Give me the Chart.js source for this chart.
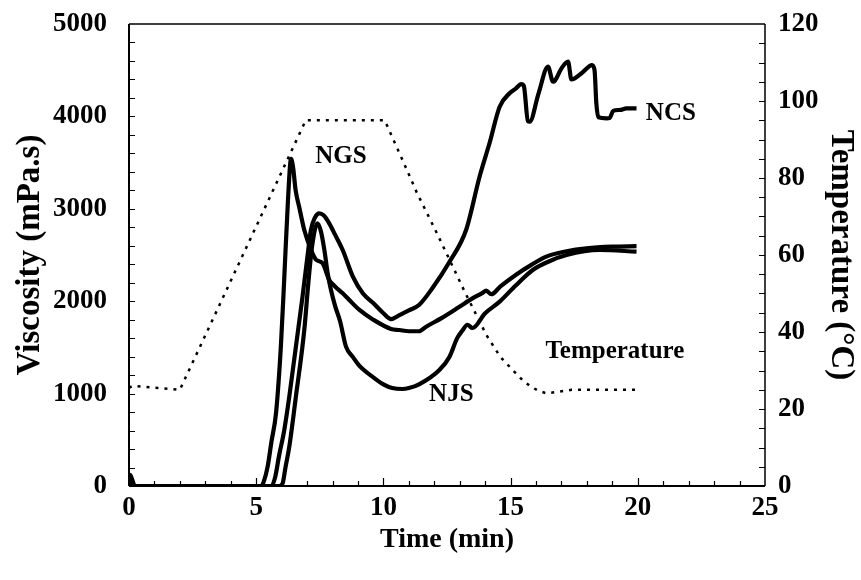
<!DOCTYPE html>
<html>
<head>
<meta charset="utf-8">
<script src="https://cdn.jsdelivr.net/npm/chart.js@4"></script>
<style>
  html, body { margin: 0; padding: 0; background: #fff; }
  canvas { display: block; }
</style>
</head>
<body>
<canvas id="myChart" width="861" height="580"></canvas>
<script>
// Viscosity profiles (mPa.s) vs time (min) for three starches
const ngsTime = [0, 0.04, 0.1, 0.16, 0.22, 5.2, 5.3, 5.45, 5.6, 5.78, 5.97, 6.1, 6.25, 6.37, 6.45, 6.55, 6.69, 6.89, 7.15, 7.35, 7.61, 7.87, 8.1, 8.4, 8.66, 9.06, 9.6, 10.3, 10.63, 11.0, 11.4, 11.68, 12.3, 12.99, 13.5, 13.9, 14.04, 14.24, 14.6, 15.2, 15.8, 16.4, 17.2, 17.98, 19.0, 19.95];
const ngsVisc = [0, 120, 90, 40, 0, 0, 50, 210, 480, 790, 1510, 2230, 3100, 3540, 3450, 3200, 3020, 2770, 2560, 2450, 2410, 2230, 2160, 2085, 2013, 1905, 1800, 1700, 1688, 1675, 1675, 1724, 1820, 1940, 2030, 2090, 2115, 2075, 2160, 2284, 2390, 2482, 2540, 2572, 2590, 2595];

const ncsTime = [0, 5.6, 5.75, 5.9, 6.1, 6.3, 6.56, 6.82, 7.0, 7.15, 7.3, 7.48, 7.65, 7.87, 8.1, 8.4, 8.8, 9.19, 9.6, 10.0, 10.3, 10.63, 11.0, 11.4, 11.93, 12.6, 13.25, 13.78, 14.17, 14.57, 14.96, 15.2, 15.42, 15.52, 15.68, 15.75, 16.1, 16.47, 16.67, 16.75, 17.0, 17.26, 17.39, 17.8, 18.2, 18.3, 18.37, 18.45, 18.77, 18.9, 19.03, 19.3, 19.55, 19.95];
const ncsVisc = [0, 0, 100, 330, 600, 966, 1508, 2049, 2450, 2770, 2900, 2951, 2930, 2843, 2720, 2554, 2265, 2085, 1980, 1870, 1807, 1850, 1900, 1959, 2143, 2427, 2770, 3347, 3709, 4105, 4250, 4300, 4350, 4330, 3950, 3943, 4250, 4538, 4375, 4390, 4520, 4592, 4400, 4470, 4556, 4500, 4142, 3990, 3979, 3985, 4060, 4070, 4087, 4087];

const njsTime = [0, 5.9, 6.04, 6.15, 6.3, 6.56, 6.89, 7.05, 7.2, 7.41, 7.55, 7.68, 7.81, 7.94, 8.1, 8.3, 8.53, 8.79, 9.06, 9.57, 10.0, 10.35, 10.75, 11.0, 11.4, 12.2, 12.6, 12.9, 13.1, 13.3, 13.5, 14.0, 14.57, 15.2, 15.87, 16.5, 17.2, 18.5, 19.95];
const njsVisc = [0, 0, 30, 200, 425, 966, 1688, 2200, 2600, 2843, 2750, 2554, 2302, 2121, 1950, 1780, 1508, 1400, 1300, 1183, 1100, 1060, 1050, 1060, 1100, 1255, 1400, 1600, 1680, 1745, 1710, 1870, 1995, 2170, 2338, 2430, 2500, 2554, 2536];

// Temperature programme (°C), right axis
const tempTime = [0, 0.15, 2, 6.95, 10.05, 10.75, 11.3, 12.1, 13.2, 14.05, 14.6, 15.2, 15.5, 15.8, 16.1, 16.4, 16.8, 17.4, 19.95];
const tempVal = [25.5, 26, 25, 95, 95, 84.7, 76.4, 65.7, 50.4, 39.2, 33.5, 29.3, 27.3, 25.8, 24.7, 24.1, 24.4, 25, 25];

// curve names written beside the lines: [text, time, viscosity]
const curveNames = [
    ['NGS', 8.33, 3564],
    ['NCS', 21.3, 4033],
    ['NJS', 12.67, 985],
    ['Temperature', 19.1, 1453]
];

const FONT = '"Liberation Serif", "Times New Roman", serif';

function toPoints(xs, ys) {
    return xs.map((x, i) => ({ x: x, y: ys[i] }));
}

function solid(label, xs, ys) {
    return {
        label: label,
        data: toPoints(xs, ys),
        borderColor: '#000',
        borderWidth: 4.2,
        pointRadius: 0,
        cubicInterpolationMode: 'monotone',
        yAxisID: 'y'
    };
}

// frame, inward tick marks and curve names
const framePlugin = {
    id: 'frame',
    afterDraw(chart) {
        const ctx = chart.ctx;
        const a = chart.chartArea;
        const sx = chart.scales.x, sy = chart.scales.y, sy2 = chart.scales.y2;
        ctx.save();
        ctx.strokeStyle = '#000';
        ctx.lineCap = 'butt';

        ctx.lineWidth = 1.5;
        ctx.beginPath();
        ctx.moveTo(a.left, a.top); ctx.lineTo(a.right, a.top);
        ctx.moveTo(a.right, a.top); ctx.lineTo(a.right, a.bottom);
        ctx.stroke();
        ctx.lineWidth = 2;
        ctx.beginPath();
        ctx.moveTo(a.left, a.top); ctx.lineTo(a.left, a.bottom);
        ctx.moveTo(a.left, a.bottom); ctx.lineTo(a.right, a.bottom);
        ctx.stroke();

        ctx.lineWidth = 1.2;
        ctx.beginPath();
        for (let t = 1; t < 25; t++) {
            const px = Math.round(sx.getPixelForValue(t)) + 0.5;
            const len = t % 5 === 0 ? 8 : 5;
            ctx.moveTo(px, a.bottom); ctx.lineTo(px, a.bottom - len);
        }
        for (let v = 200; v < 5000; v += 200) {
            const py = Math.round(sy.getPixelForValue(v)) + 0.5;
            ctx.moveTo(a.left, py); ctx.lineTo(a.left + 6, py);
        }
        for (let v = 5; v < 120; v += 5) {
            const py = Math.round(sy2.getPixelForValue(v)) + 0.5;
            ctx.moveTo(a.right, py); ctx.lineTo(a.right - 6, py);
        }
        ctx.stroke();

        ctx.fillStyle = '#000';
        ctx.font = 'bold 25px ' + FONT;
        ctx.textAlign = 'center';
        ctx.textBaseline = 'middle';
        curveNames.forEach(([txt, t, v]) => {
            ctx.fillText(txt, sx.getPixelForValue(t), sy.getPixelForValue(v));
        });
        ctx.restore();
    }
};

const tickFont = { family: FONT, size: 27, weight: 'bold' };
const titleFont = { family: FONT, size: 28, weight: 'bold' };
const sideTitleFont = { family: FONT, size: 33, weight: 'bold' };
const plain = v => String(v);

new Chart(document.getElementById('myChart'), {
    type: 'line',
    data: {
        datasets: [
            solid('NGS', ngsTime, ngsVisc),
            solid('NCS', ncsTime, ncsVisc),
            solid('NJS', njsTime, njsVisc),
            {
                label: 'Temperature',
                data: toPoints(tempTime, tempVal),
                borderColor: '#000',
                borderWidth: 2.5,
                borderDash: [3, 6],
                pointRadius: 0,
                tension: 0,
                yAxisID: 'y2'
            }
        ]
    },
    options: {
        responsive: false,
        animation: false,
        layout: { padding: { top: 24, left: 0, right: 0, bottom: 0 } },
        plugins: { legend: { display: false }, tooltip: { enabled: false } },
        scales: {
            x: {
                type: 'linear',
                min: 0, max: 25,
                grid: { display: false, drawTicks: false },
                border: { display: false },
                ticks: { stepSize: 5, font: tickFont, color: '#000', padding: 6, maxRotation: 0, callback: plain },
                title: { display: true, text: 'Time (min)', font: titleFont, color: '#000', padding: { top: 0, bottom: 23 } },
                afterFit(scale) { scale.height = 94; scale.paddingLeft = 0; scale.paddingRight = 0; }
            },
            y: {
                position: 'left',
                min: 0, max: 5000,
                grid: { display: false, drawTicks: false },
                border: { display: false },
                ticks: { stepSize: 1000, font: tickFont, color: '#000', padding: 22, callback: plain },
                title: { display: true, text: 'Viscosity (mPa.s)', font: sideTitleFont, color: '#000', padding: { top: 11, bottom: 0 } },
                afterFit(scale) { scale.width = 129; scale.paddingTop = 0; scale.paddingBottom = 0; }
            },
            y2: {
                position: 'right',
                min: 0, max: 120,
                grid: { display: false, drawTicks: false },
                border: { display: false },
                ticks: { stepSize: 20, font: tickFont, color: '#000', padding: 13, callback: plain },
                title: { display: true, text: 'Temperature (°C)', font: sideTitleFont, color: '#000', padding: { top: 1, bottom: 0 } },
                afterFit(scale) { scale.width = 96; scale.paddingTop = 0; scale.paddingBottom = 0; }
            }
        }
    },
    plugins: [framePlugin]
});
</script>
</body>
</html>
